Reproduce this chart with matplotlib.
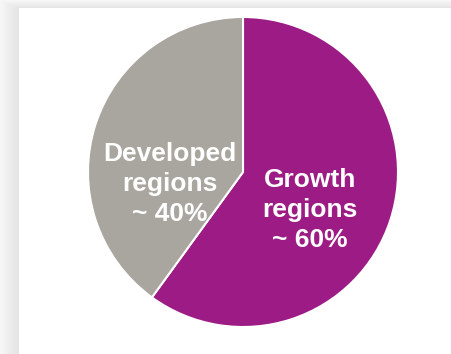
import numpy as np
import matplotlib.pyplot as plt

# data
regions = ["Growth\nregions\n~ 60%", "Developed\nregions\n~ 40%"]
shares = [60, 40]
colors = ["#9C1B84", "#A9A59F"]
label_pos = [(0.43, -0.245), (-0.47, -0.08)]

W, H = 452, 354
fig = plt.figure(figsize=(W / 100, H / 100), dpi=100)

# soft shadow on left/top edge of the card
bg = fig.add_axes([0, 0, 1, 1])
yy, xx = np.mgrid[0:H, 0:W]
dx = np.clip(19 - xx, 0, None)
dy = np.clip(8 - yy, 0, None)
d = np.maximum(dx / 19.0, dy / 8.0)
shade = np.where((dx > 0) | (dy > 0), 0.89 + 0.08 * d, 1.0)
bg.imshow(np.dstack([shade] * 3), extent=[0, W, H, 0], aspect="auto")
bg.set_axis_off()

ax = fig.add_axes([88 / W, 27 / H, 310 / W, 310 / H])
ax.pie(shares, colors=colors, startangle=90, counterclock=False,
       radius=1, wedgeprops=dict(edgecolor="white", linewidth=1.5))
for txt, (x, y) in zip(regions, label_pos):
    ax.text(x, y, txt, ha="center", va="center", color="white",
            fontsize=19, fontweight="bold", family="Liberation Sans",
            linespacing=1.32)
ax.set_xlim(-1, 1)
ax.set_ylim(-1, 1)
ax.set_aspect("equal")
ax.set_axis_off()

fig.savefig("out.png", dpi=100)
